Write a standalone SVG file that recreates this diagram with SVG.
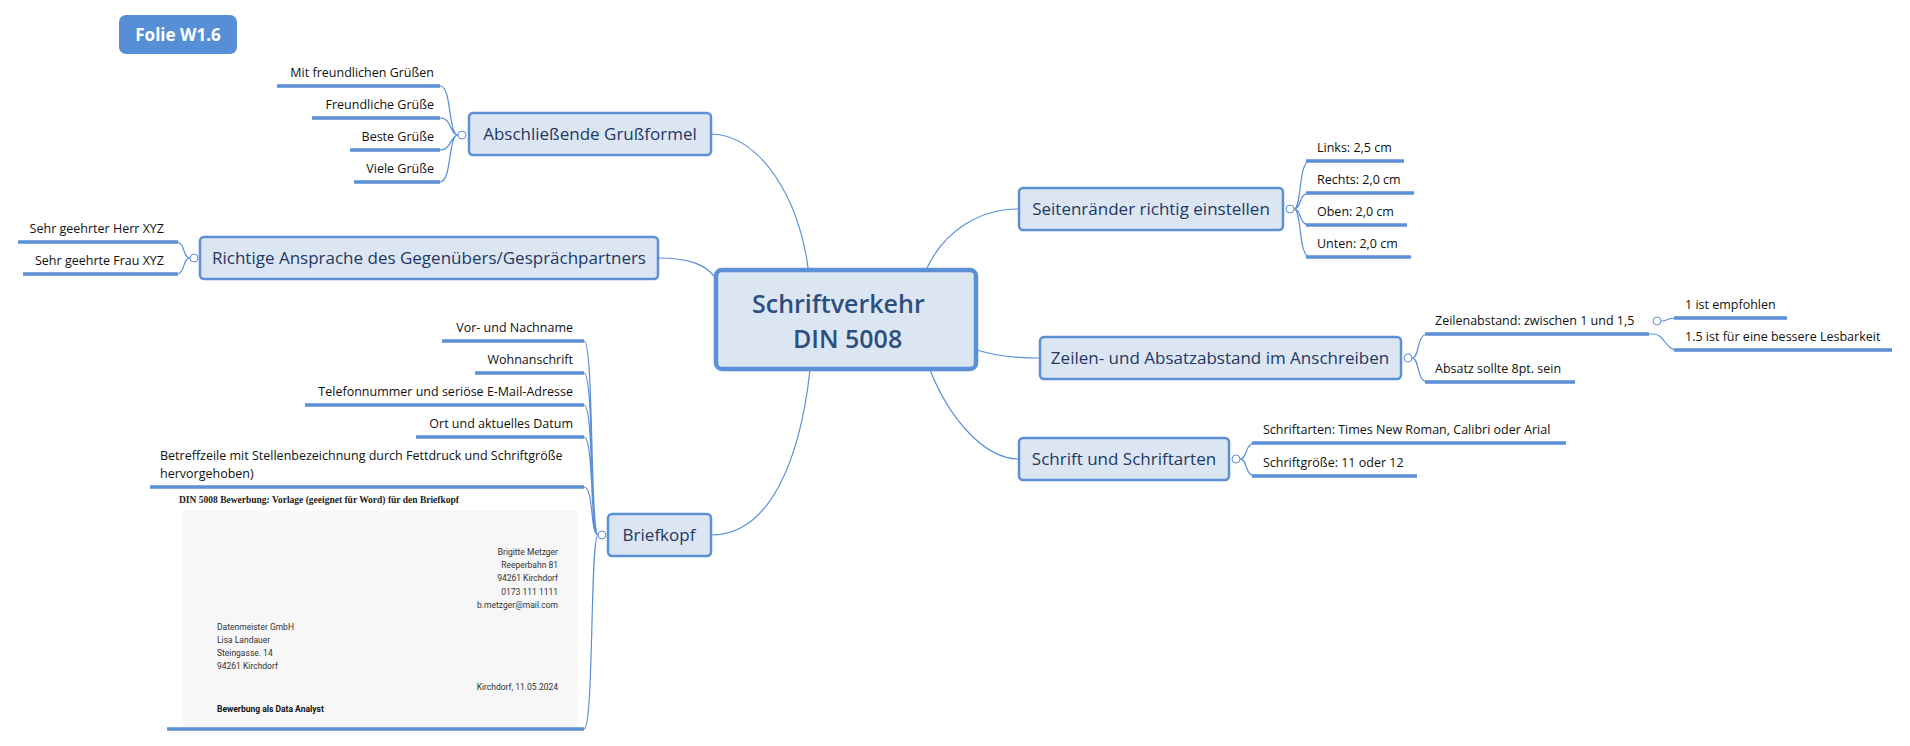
<svg xmlns="http://www.w3.org/2000/svg" width="1910" height="746" viewBox="0 0 1910 746">
<style>
.n{fill:#dce6f2;stroke:#5b8fd6;stroke-width:2.5}
.nt{font-family:"Open Sans",sans-serif;font-size:17px;fill:#1f3864}
.ct{font-family:"Open Sans",sans-serif;font-size:25px;font-weight:600;fill:#2c4f80}
.l{font-family:"Open Sans",sans-serif;font-size:12.5px;fill:#111}
.u{stroke:#5b8fd6;stroke-width:3.5;fill:none}
.c{stroke:#5b8fd6;stroke-width:1.2;fill:none}
.k{fill:#fff;stroke:#5b8fd6;stroke-width:1}
.d{font-family:Roboto,"Liberation Sans",sans-serif;font-size:8.5px;fill:#333}
</style>
<g id="folie"><rect x="119" y="15" width="118" height="39" rx="7" fill="#568fd6"/><text x="178" y="41" text-anchor="middle" font-family="Open Sans,sans-serif" font-size="17" font-weight="bold" fill="#fff">Folie W1.6</text></g>
<g id="connectors">
<path class="c" d="M711 134 C760 134 800 200 808 268"/>
<path class="c" d="M658 258 C690 258 705 265 714 276"/>
<path class="c" d="M927 268 C945 230 980 209 1019 209"/>
<path class="c" d="M977 350 C995 356 1015 358 1040 358"/>
<path class="c" d="M930 370 C950 420 985 459 1019 459"/>
<path class="c" d="M711 535 C770 535 800 460 810 370"/>
<path class="c" d="M458 135 C448 135 452 86 440 86 M458 135 C450 135 452 118 440 118 M458 135 C450 135 452 150 440 150 M458 135 C448 135 452 182 440 182"/>
<path class="c" d="M190 258 C182 258 186 242 176 242 M190 258 C182 258 186 274 176 274"/>
<path class="c" d="M1294 209 C1302 209 1298 161 1310 161 M1294 209 C1302 209 1298 193 1310 193 M1294 209 C1302 209 1298 225 1310 225 M1294 209 C1302 209 1298 257 1310 257"/>
<path class="c" d="M1412 358 C1420 358 1416 334 1428 334 M1412 358 C1420 358 1416 382 1428 382"/>
<path class="c" d="M1649 334 L1653 334 M1661 321 C1669 321 1665 318 1677 318 M1653 334 C1665 334 1665 350 1677 350"/>
<path class="c" d="M1240 459 C1248 459 1244 443 1256 443 M1240 459 C1248 459 1244 476 1256 476"/>
<path class="c" d="M598 535 C590 535 594 341 584 341 M598 535 C590 535 594 373 584 373 M598 535 C590 535 594 405 584 405 M598 535 C590 535 594 437 584 437 M598 535 C590 535 594 487 584 487 M598 535 C590 535 594 729 584 729"/>
</g>
<g id="center"><rect x="716" y="270" width="260" height="99" rx="6" fill="#dce6f2" stroke="#5b8fd6" stroke-width="4.5"/><text class="ct" x="752" y="313">Schriftverkehr</text><text class="ct" x="793" y="348">DIN 5008</text></g>
<g id="gruss"><rect class="n" x="469" y="113" width="242" height="42" rx="4"/><text class="nt" x="590" y="140" text-anchor="middle">Abschließende Grußformel</text>
<circle class="k" cx="462" cy="135" r="4"/>
<path class="u" d="M277 86H440M312 118H440M350 150H440M354 182H440"/>
<g class="l" text-anchor="end"><text x="434" y="77">Mit freundlichen Grüßen</text><text x="434" y="109">Freundliche Grüße</text><text x="434" y="141">Beste Grüße</text><text x="434" y="173">Viele Grüße</text></g></g>
<g id="ansprache"><rect class="n" x="200" y="237" width="458" height="42" rx="4"/><text class="nt" x="429" y="264" text-anchor="middle">Richtige Ansprache des Gegenübers/Gesprächpartners</text>
<circle class="k" cx="194" cy="258" r="4"/>
<path class="u" d="M18 242H178M23 274H178"/>
<g class="l" text-anchor="end"><text x="164" y="233">Sehr geehrter Herr XYZ</text><text x="164" y="265">Sehr geehrte Frau XYZ</text></g></g>
<g id="seiten"><rect class="n" x="1019" y="188" width="264" height="42" rx="4"/><text class="nt" x="1151" y="215" text-anchor="middle">Seitenränder richtig einstellen</text>
<circle class="k" cx="1290" cy="209" r="4"/>
<path class="u" d="M1306 161H1404M1306 193H1414M1306 225H1407M1306 257H1411"/>
<g class="l"><text x="1317" y="152">Links: 2,5 cm</text><text x="1317" y="184">Rechts: 2,0 cm</text><text x="1317" y="216">Oben: 2,0 cm</text><text x="1317" y="248">Unten: 2,0 cm</text></g></g>
<g id="zeilen"><rect class="n" x="1040" y="337" width="361" height="42" rx="4"/><text class="nt" x="1220" y="364" text-anchor="middle">Zeilen- und Absatzabstand im Anschreiben</text>
<circle class="k" cx="1408" cy="358" r="4"/>
<path class="u" d="M1425 334H1649M1425 382H1575"/>
<g class="l"><text x="1435" y="325">Zeilenabstand: zwischen 1 und 1,5</text><text x="1435" y="373">Absatz sollte 8pt. sein</text></g>
<circle class="k" cx="1657" cy="321" r="4"/>
<path class="u" d="M1674 318H1787M1674 350H1892"/>
<g class="l"><text x="1685" y="309">1 ist empfohlen</text><text x="1685" y="341">1.5 ist für eine bessere Lesbarkeit</text></g></g>
<g id="schrift"><rect class="n" x="1019" y="438" width="210" height="42" rx="4"/><text class="nt" x="1124" y="465" text-anchor="middle">Schrift und Schriftarten</text>
<circle class="k" cx="1236" cy="459" r="4"/>
<path class="u" d="M1252 443H1566M1252 476H1417"/>
<g class="l"><text x="1263" y="434">Schriftarten: Times New Roman, Calibri oder Arial</text><text x="1263" y="467">Schriftgröße: 11 oder 12</text></g></g>
<g id="briefkopf"><rect class="n" x="608" y="514" width="103" height="42" rx="4"/><text class="nt" x="659" y="541" text-anchor="middle">Briefkopf</text>
<circle class="k" cx="602" cy="535" r="4"/>
<path class="u" d="M442 341H584M475 373H584M305 405H584M416 437H584M150 487H584M167 729H584"/>
<g class="l" text-anchor="end"><text x="573" y="332">Vor- und Nachname</text><text x="573" y="364">Wohnanschrift</text><text x="573" y="396">Telefonnummer und seriöse E-Mail-Adresse</text><text x="573" y="428">Ort und aktuelles Datum</text></g>
<text class="l" x="160" y="460">Betreffzeile mit Stellenbezeichnung durch Fettdruck und Schriftgröße</text><text class="l" x="160" y="478">hervorgehoben)</text>
<text x="179" y="503" font-family="Liberation Serif,serif" font-size="9.5" font-weight="bold" fill="#222">DIN 5008 Bewerbung: Vorlage (geeignet für Word) für den Briefkopf</text>
<rect x="183" y="511" width="394" height="216" fill="#f7f7f7"/>
<g class="d" text-anchor="end"><text x="558" y="555">Brigitte Metzger</text><text x="558" y="568">Reeperbahn 81</text><text x="558" y="581">94261 Kirchdorf</text><text x="558" y="595">0173 111 1111</text><text x="558" y="608">b.metzger@mail.com</text><text x="558" y="690">Kirchdorf, 11.05.2024</text></g>
<g class="d"><text x="217" y="630">Datenmeister GmbH</text><text x="217" y="643">Lisa Landauer</text><text x="217" y="656">Steingasse. 14</text><text x="217" y="669">94261 Kirchdorf</text><text x="217" y="712" font-weight="bold" fill="#111">Bewerbung als Data Analyst</text></g></g>
</svg>
